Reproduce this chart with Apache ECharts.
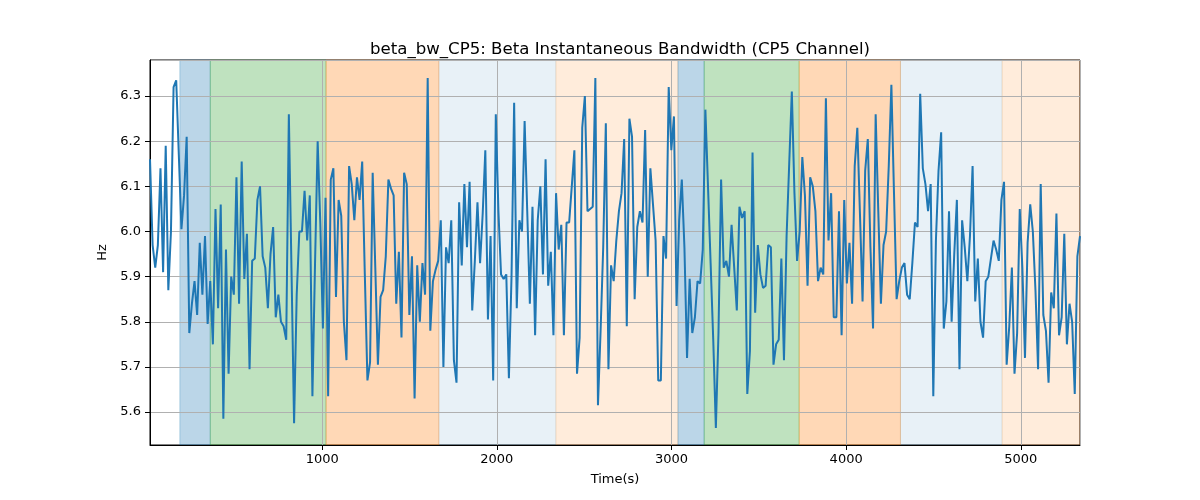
<!DOCTYPE html>
<html>
<head>
<meta charset="utf-8">
<title>beta_bw_CP5</title>
<script src="https://cdn.jsdelivr.net/npm/echarts@6/dist/echarts.min.js"></script>
<style>
  html, body { margin: 0; padding: 0; background: #ffffff; }
  #chart { width: 1200px; height: 500px; }
</style>
</head>
<body>
<div id="chart"></div>
<script>
// sampling grid (s)
var tStart = 14;
var tStep = 15;

// beta bandwidth (Hz) left to right
var bwPart1 = [6.16, 5.97, 5.92, 5.97, 6.14, 5.91, 6.19, 5.87, 6.00, 6.32,
  6.335, 6.17, 6.005, 6.08, 6.21, 5.775, 5.84, 5.89, 5.815, 5.975,
  5.86, 5.99, 5.795, 5.89, 5.75, 6.05, 5.83, 6.06, 5.585, 5.96,
  5.685, 5.90, 5.86, 6.12, 5.84, 6.155, 5.895, 5.995, 5.695, 5.935,
  5.94, 6.07, 6.10, 5.945, 5.92, 5.83, 5.95, 6.01, 5.81, 5.86,
  5.80, 5.79, 5.76, 6.26, 5.92, 5.575, 5.86, 6.00, 6.00, 6.09];
var bwPart2 = [5.98, 6.08, 5.635, 5.93, 6.20, 6.02, 5.785, 6.075, 5.635, 6.115,
  6.14, 5.855, 6.07, 6.035, 5.80, 5.715, 6.145, 6.105, 6.025, 6.12,
  6.07, 6.155, 5.905, 5.67, 5.71, 6.13, 5.92, 5.705, 5.855, 5.87,
  5.945, 6.115, 6.095, 6.08, 5.84, 5.955, 5.765, 6.13, 6.105, 5.815,
  5.945, 5.63, 5.925, 5.80, 5.93, 5.86, 6.34, 5.78, 5.89, 5.915,
  5.935, 6.025, 5.70, 5.965, 5.93, 6.025, 5.715, 5.665];
var bwPart3 = [6.065, 5.925, 6.105, 5.965, 6.11, 5.825, 5.935, 6.065, 5.93, 6.04,
  6.18, 5.805, 5.99, 5.67, 6.26, 6.045, 5.905, 5.895, 5.905, 5.675,
  5.90, 6.285, 5.83, 6.025, 6.00, 6.245, 6.045, 5.84, 6.055, 5.77,
  6.025, 6.10, 5.905, 6.16, 5.88, 5.955, 5.77, 6.085, 5.96, 6.015,
  5.77, 6.02, 6.02, 6.10, 6.18, 5.685, 5.765, 6.23, 6.30, 6.045,
  6.05, 6.055, 6.34, 5.615, 5.78, 5.965, 6.24, 5.695, 5.925];
var bwPart4 = [5.89, 5.98, 6.045, 6.085, 6.205, 5.79, 6.25, 6.21, 5.85, 6.01,
  6.045, 6.02, 6.225, 5.90, 6.14, 6.06, 5.98, 5.67, 5.67, 5.99,
  5.94, 6.32, 6.18, 6.255, 5.835, 6.025, 6.115, 5.965, 5.72, 5.895,
  5.775, 5.81, 5.89, 5.885, 5.96, 6.27, 6.10, 5.93, 5.76, 5.565,
  5.775, 6.115, 5.92, 5.935, 5.90, 6.015, 5.92, 5.825, 6.055, 6.03,
  6.045, 5.64, 5.735, 6.175, 5.82, 5.97, 5.905, 5.875];
var bwPart5 = [5.88, 5.97, 5.965, 5.705, 5.75, 5.76, 5.94, 5.715, 5.99, 6.15,
  6.31, 6.085, 5.935, 6.00, 6.165, 6.08, 5.88, 6.12, 6.10, 6.045,
  5.89, 5.92, 5.905, 6.295, 5.98, 6.085, 5.81, 5.81, 6.045, 5.77,
  6.07, 5.885, 5.975, 5.84, 6.145, 6.23, 6.04, 5.845, 6.135, 6.205,
  5.965, 5.785, 6.26, 6.045, 5.84, 5.97, 6.00, 6.145, 6.325, 6.085,
  5.85, 5.89, 5.92, 5.93, 5.86, 5.85, 5.93, 6.02, 6.01];
var bwPart6 = [6.305, 6.14, 6.105, 6.045, 6.105, 5.635, 5.98, 6.135, 6.22, 5.785,
  5.845, 6.045, 5.80, 5.95, 6.07, 5.695, 6.025, 5.965, 5.89, 5.99,
  6.145, 5.845, 5.94, 5.80, 5.765, 5.89, 5.90, 5.94, 5.98, 5.96,
  5.935, 6.07, 6.11, 5.705, 5.79, 5.92, 5.685, 5.775, 6.05, 5.92,
  5.72, 5.975, 6.06, 6.00, 5.87, 5.695, 6.105, 5.815, 5.78, 5.665,
  5.865, 5.83, 6.04, 5.77, 5.81, 5.995, 5.75, 5.84, 5.80, 5.64,
  5.945, 5.99];

// shaded segments (s)
var spanStart = [185, 359, 1022, 1668, 2338, 3037, 3187, 3731, 4311, 4893];
var spanEnd = [359, 1022, 1668, 2338, 3037, 3187, 3731, 4311, 4893, 5339];
var spanColor = [
  'rgba(31,119,180,0.3)', 'rgba(44,160,44,0.3)', 'rgba(255,127,14,0.3)',
  'rgba(31,119,180,0.1)', 'rgba(255,127,14,0.15)',
  'rgba(31,119,180,0.3)', 'rgba(44,160,44,0.3)', 'rgba(255,127,14,0.3)',
  'rgba(31,119,180,0.1)', 'rgba(255,127,14,0.15)'
];

var bwValues = [].concat(bwPart1, bwPart2, bwPart3, bwPart4, bwPart5, bwPart6);
var points = bwValues.map(function (v, i) { return [tStart + i * tStep, v]; });
var tEnd = tStart + (bwValues.length - 1) * tStep;

var areas = spanStart.map(function (s, i) {
  return [
    { xAxis: s, itemStyle: { color: spanColor[i], borderColor: spanColor[i], borderWidth: 1 } },
    { xAxis: spanEnd[i] }
  ];
});

var font = 'DejaVu Sans';
var myChart = echarts.init(document.getElementById('chart'));
var option = {
  animation: false,
  title: {
    text: 'beta_bw_CP5: Beta Instantaneous Bandwidth (CP5 Channel)',
    left: 615,
    top: 36,
    textAlign: 'center',
    textStyle: { fontFamily: font, fontSize: 16.6, fontWeight: 'normal', color: '#000' }
  },
  grid: {
    left: 150, right: 120, top: 60, bottom: 55,
    show: true, borderColor: '#000', borderWidth: 1, backgroundColor: 'transparent'
  },
  xAxis: {
    type: 'value',
    min: tStart,
    max: tEnd,
    splitNumber: 5,
    z: 2,
    name: 'Time(s)',
    nameLocation: 'middle',
    nameGap: 28,
    nameTextStyle: { fontFamily: font, fontSize: 13, color: '#000' },
    axisLine: { lineStyle: { color: '#000', width: 1 } },
    axisTick: { show: true, length: 5, lineStyle: { color: '#000' } },
    axisLabel: {
      showMinLabel: false, showMaxLabel: false, margin: 8, color: '#000', fontFamily: font, fontSize: 13,
      formatter: function (v) { return String(Math.round(v)); }
    },
    splitLine: { show: true, lineStyle: { color: '#b0b0b0', width: 1 } }
  },
  yAxis: {
    type: 'value',
    min: 5.527,
    max: 6.38,
    splitNumber: 8,
    z: 2,
    name: 'Hz',
    nameLocation: 'middle',
    nameGap: 38,
    nameTextStyle: { fontFamily: font, fontSize: 13, color: '#000' },
    axisLine: { show: true, lineStyle: { color: '#000', width: 1 } },
    axisTick: { show: true, length: 5, lineStyle: { color: '#000' } },
    axisLabel: {
      showMinLabel: false, showMaxLabel: false, margin: 9, color: '#000', fontFamily: font, fontSize: 13,
      formatter: function (v) { return v.toFixed(1); }
    },
    splitLine: { show: true, lineStyle: { color: '#b0b0b0', width: 1 } }
  },
  series: [
    {
      name: 'beta_bw_CP5',
      type: 'line',
      data: points,
      showSymbol: false,
      z: 3,
      lineStyle: { color: '#1f77b4', width: 2 },
      markArea: { silent: true, z: 1, data: areas }
    }
  ]
};
myChart.setOption(option);
</script>
</body>
</html>
